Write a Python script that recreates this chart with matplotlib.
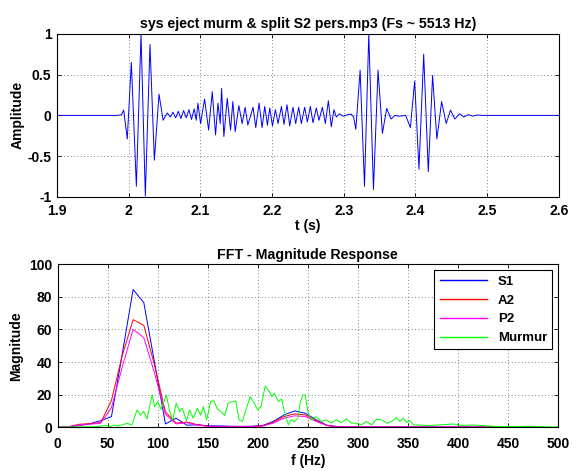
import matplotlib
matplotlib.use("Agg")
import matplotlib.pyplot as plt

plt.rcParams["font.family"] = ["Liberation Sans", "DejaVu Sans"]
plt.rcParams["font.weight"] = "bold"
plt.rcParams["font.size"] = 8.5

# waveform: local extrema (time s, amplitude)
t_pts = [1.900, 1.985, 1.990, 1.993, 1.998, 2.0037, 2.0107, 2.0172, 2.0232, 2.0297,
         2.0358, 2.0423, 2.0480, 2.0539, 2.0581, 2.0618, 2.0655, 2.0692, 2.0729, 2.0766,
         2.0803, 2.0840, 2.0877, 2.0914, 2.0942, 2.0966, 2.1003, 2.1059, 2.1115, 2.1166,
         2.1212, 2.1245, 2.1277, 2.1296, 2.1328, 2.1375, 2.1421, 2.1453, 2.1486, 2.1537,
         2.1583, 2.1625, 2.1662, 2.1735, 2.1773, 2.1819, 2.1861, 2.1898, 2.1936, 2.1968,
         2.2006, 2.2047, 2.2084, 2.2131, 2.2167, 2.2209, 2.2247, 2.2292, 2.2330, 2.2372,
         2.2409, 2.2455, 2.2493, 2.2535, 2.2571, 2.2618, 2.2655, 2.2702, 2.2744, 2.2786,
         2.2827, 2.2864, 2.2897, 2.2943, 2.2989, 2.3059, 2.3106, 2.3138, 2.3169, 2.3229,
         2.3290, 2.3350, 2.3415, 2.3479, 2.3540, 2.3600, 2.3660, 2.3716, 2.3780, 2.3865,
         2.3930, 2.3990, 2.4050, 2.4116, 2.4180, 2.4240, 2.4300, 2.4366, 2.4430, 2.4490,
         2.4550, 2.4617, 2.4677, 2.4738, 2.4800, 2.4864, 2.4940, 2.6000]
amp = [0, 0, 0.01, 0.065, -0.29, 0.65, -0.87, 1.0, -0.99, 0.87,
       -0.55, 0.26, -0.06, 0.03, -0.02, 0.04, -0.03, 0.05, -0.04, 0.06,
       -0.03, 0.07, -0.05, 0.08, -0.06, 0.15, -0.10, 0.20, -0.18, 0.29,
       -0.24, 0.15, -0.10, 0.33, -0.26, 0.21, -0.18, 0.17, -0.20, 0.12,
       -0.10, 0.10, -0.12, 0.10, -0.15, 0.15, -0.15, 0.11, -0.12, 0.09,
       -0.13, 0.07, -0.10, 0.11, -0.11, 0.13, -0.13, 0.10, -0.10, 0.10,
       -0.10, 0.10, -0.08, 0.11, -0.09, 0.09, -0.06, 0.10, -0.10, 0.18,
       -0.14, 0.07, -0.02, 0.02, -0.01, 0.01, 0.015, -0.02, -0.17, 0.555,
       -0.87, 1.0, -0.91, 0.555, -0.22, 0.086, -0.045, 0.0, -0.01, 0.0,
       -0.15, 0.42, -0.66, 0.75, -0.69, 0.49, -0.29, 0.17, -0.10, 0.065,
       -0.045, 0.02, -0.02, 0.01, -0.01, 0.005, 0, 0]

# FFT bins (Hz) for S1 / A2 / P2
f_bins = [0, 10.8, 21.5, 32.3, 43.1, 53.8, 64.6, 75.4, 86.1, 96.9,
          107.7, 118.4, 129.2, 140.0, 150.8, 161.5, 172.3, 183.1, 193.8, 204.6,
          215.4, 226.1, 236.9, 247.7, 258.4, 269.2, 280.0, 290.7, 301.5, 312.3,
          323.0, 333.8, 344.6, 355.3, 366.1, 376.9, 387.6, 398.4, 409.2, 419.9,
          430.7, 441.5, 452.2, 463.0, 473.8, 484.6]
s1 = [0, 0.3, 1.0, 2.2, 4.0, 6.5, 45, 84.5, 76.5, 39.5,
      2.0, 5.5, 1.2, 1.5, 0.8, 0.8, 0.6, 0.5, 0.6, 1.0,
      3.5, 7.5, 10, 8.5, 4.5, 1.2, 0.3, 0.1, 0.1, 0.1,
      0.1, 0.1, 0.1, 0.1, 0.1, 0.1, 0.1, 0.1, 0.1, 0.1,
      0.1, 0.1, 0.1, 0.1, 0.1, 0.1]
a2 = [0, 0.3, 1.8, 2.2, 2.8, 16.5, 44, 66, 62.5, 38,
      9.5, 2.5, 3.2, 1.5, 0.6, 0.4, 0.3, 0.3, 0.4, 0.8,
      3.0, 6.5, 8.2, 7.5, 4.0, 1.0, 0.3, 0.1, 0.1, 0.1,
      0.1, 0.1, 0.1, 0.1, 0.1, 0.1, 0.1, 0.1, 0.1, 0.1,
      0.1, 0.1, 0.1, 0.1, 0.1, 0.1]
p2 = [0, 0.2, 1.2, 1.8, 2.5, 12, 37, 60, 55, 33,
      8, 2.0, 2.8, 1.2, 0.5, 0.4, 0.3, 0.3, 0.4, 0.7,
      2.5, 5.5, 7.0, 6.5, 3.5, 1.0, 0.3, 0.1, 0.1, 0.1,
      0.1, 0.1, 0.1, 0.1, 0.1, 0.1, 0.1, 0.1, 0.1, 0.1,
      0.1, 0.1, 0.1, 0.1, 0.1, 0.1]

# murmur spectrum (finer resolution)
f_mur = [0, 10, 20, 30, 40, 45, 48, 52, 56, 60,
         65, 69.3, 74.3, 79.3, 82.6, 86, 89.3, 94.4, 97, 100,
         103.4, 108.7, 112, 115.1, 118.5, 122.1, 124.5, 128.8, 131.8, 135.5,
         139.6, 142.9, 145.6, 148.9, 152.9, 156.2, 159.6, 163, 167, 170.3,
         174.7, 178, 181.3, 184.7, 188.1, 192.4, 196.4, 199.8, 203.1, 207.4,
         211.5, 213.9, 216.5, 220.5, 223.9, 226.5, 230.5, 233.2, 236.5, 240,
         242.6, 245, 247.3, 250, 253.3, 258.3, 263.3, 268.4, 273.4, 278.4,
         283.4, 288.5, 293.5, 298.5, 303.5, 308.5, 313.6, 318.6, 323.6, 328.6,
         333.6, 338.7, 342, 345.4, 348.7, 352, 355.4, 360.4, 370.5, 380.5,
         390.6, 395.6, 403.9, 414, 424, 434, 444, 457.4, 470.9, 481,
         491, 500]
murmur = [0, 0.1, 0.2, 0.2, 0.3, 0.8, 1.2, 0.4, 1.3, 0.8,
          1.5, 2.4, 1.4, 10.6, 7.5, 9.6, 5, 20, 12.6, 15.7,
          11, 19.8, 9.6, 4.5, 14.7, 9.6, 11.6, 3.9, 10.6, 5.5,
          11.6, 7.5, 12.6, 4.5, 15.7, 16.3, 11.2, 9.6, 7.1, 14.7,
          15.7, 16.1, 4.5, 3.5, 10.6, 18.8, 14.7, 10.6, 12.6, 25.3,
          21.8, 18.8, 20.8, 15.7, 17.3, 9.6, 1.4, 4.5, 3.5, 5.5,
          15.7, 19.8, 19.8, 9.6, 4.5, 6.5, 3.5, 4.5, 2.5, 4.5,
          2.9, 5.1, 2.5, 2.5, 1.4, 3.5, 1.4, 4.9, 4.5, 2.5,
          3.5, 5.9, 3.5, 5.5, 3, 4, 1.4, 1.4, 1.0, 1.4,
          1.8, 2.0, 1.0, 1.4, 1.0, 0.6, 0.4, 0.4, 0.6, 0.4,
          0.2, 0.2]

TICK_FS = 10
LABEL_FS = 10
TITLE_FS = 10.2


def style_axes(ax, xpad=5):
    ax.grid(True, linestyle=(0, (1, 3)), color="0.35", linewidth=0.6)
    ax.tick_params(direction="in", top=True, right=True, length=3, width=0.6,
                   labelsize=TICK_FS)
    ax.tick_params(axis="x", pad=xpad)
    ax.tick_params(axis="y", pad=4)
    for lbl in ax.get_xticklabels() + ax.get_yticklabels():
        lbl.set_fontweight("bold")
    for sp in ax.spines.values():
        sp.set_linewidth(0.8)


fig = plt.figure(figsize=(5.76, 4.71), dpi=100)

ax1 = fig.add_axes([0.099, 0.582, 0.871, 0.346])
ax1.plot(t_pts, amp, color="#0000ff", linewidth=0.7)
ax1.set_xlim(1.9, 2.6)
ax1.set_ylim(-1, 1)
ax1.set_xticks([1.9, 2.0, 2.1, 2.2, 2.3, 2.4, 2.5, 2.6])
ax1.set_xticklabels(["1.9", "2", "2.1", "2.2", "2.3", "2.4", "2.5", "2.6"])
ax1.set_yticks([-1, -0.5, 0, 0.5, 1])
ax1.set_yticklabels(["-1", "-0.5", "0", "0.5", "1"])
ax1.set_title("sys eject murm & split S2 pers.mp3 (Fs ~ 5513 Hz)", fontweight="bold",
              fontsize=TITLE_FS, pad=4)
ax1.set_xlabel("t (s)", fontweight="bold", fontsize=LABEL_FS, labelpad=1)
ax1.set_ylabel("Amplitude", fontweight="bold", fontsize=LABEL_FS, labelpad=2)
style_axes(ax1)

ax2 = fig.add_axes([0.100, 0.093, 0.869, 0.346])
ax2.plot(f_bins, s1, color="#0000ff", linewidth=0.7, label="S1")
ax2.plot(f_bins, a2, color="#ff0000", linewidth=0.7, label="A2")
ax2.plot(f_bins, p2, color="#ff00ff", linewidth=0.7, label="P2")
ax2.plot(f_mur, murmur, color="#00ff00", linewidth=0.7, label="Murmur")
ax2.set_xlim(0, 500)
ax2.set_ylim(0, 100)
ax2.set_xticks(range(0, 501, 50))
ax2.set_yticks(range(0, 101, 20))
ax2.set_title("FFT - Magnitude Response", fontweight="bold", fontsize=TITLE_FS, pad=4)
ax2.set_xlabel("f (Hz)", fontweight="bold", fontsize=LABEL_FS, labelpad=2)
ax2.set_ylabel("Magnitude", fontweight="bold", fontsize=LABEL_FS, labelpad=4)
style_axes(ax2, xpad=7)
leg = ax2.legend(loc="upper right", fancybox=False, edgecolor="black", framealpha=1,
                 handlelength=3.6, labelspacing=0.5, borderaxespad=0.45,
                 prop={"size": 9.5, "weight": "bold"})
leg.get_frame().set_linewidth(0.8)
for ln in leg.get_lines():
    ln.set_linewidth(1.0)

fig.savefig("out.png", dpi=100)
